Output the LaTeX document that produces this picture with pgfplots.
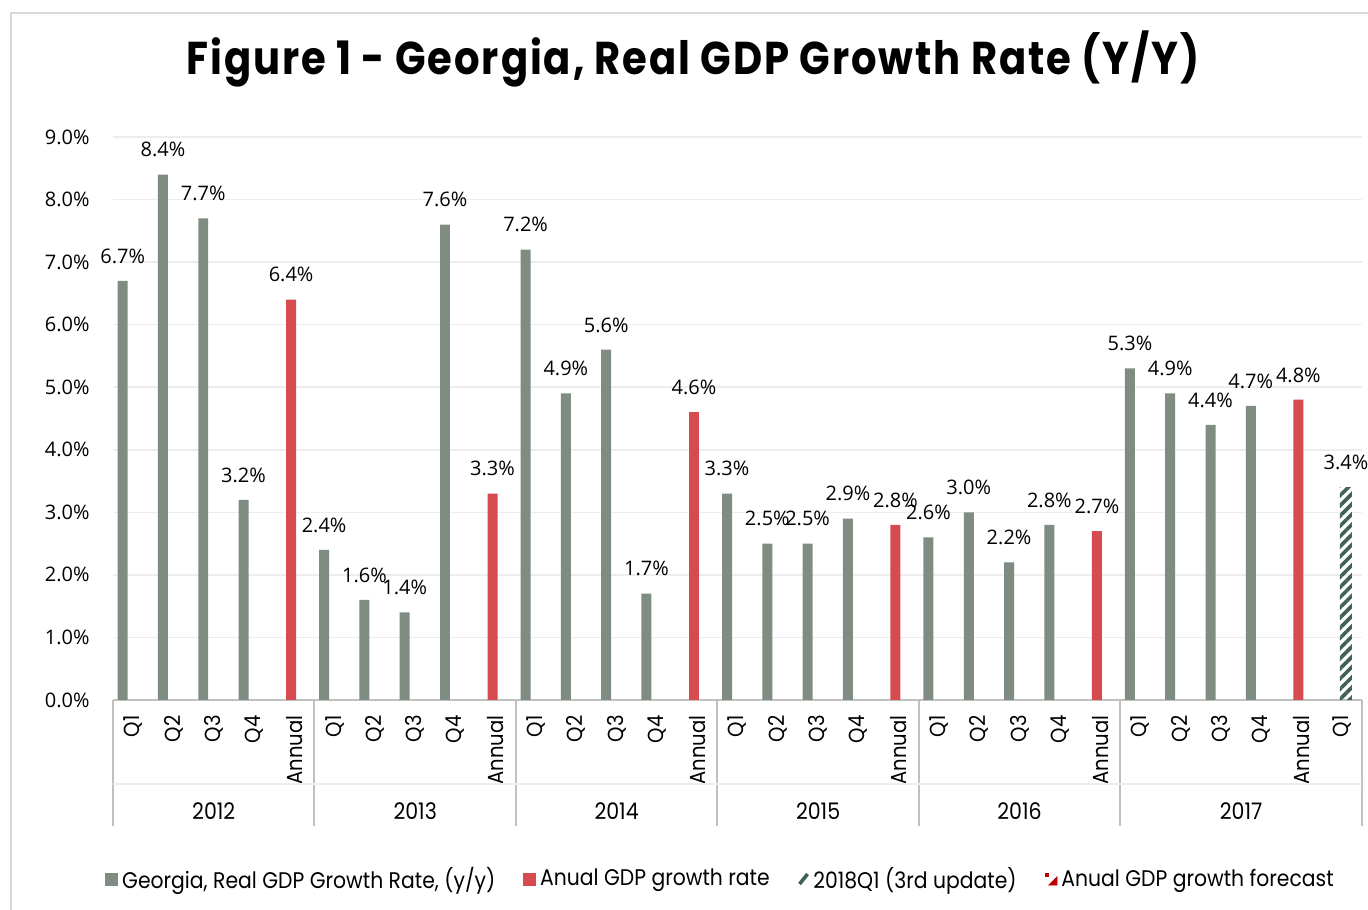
\documentclass[border=0pt]{standalone}
\usepackage{fontspec}
\setmainfont{Poppins}[FakeStretch=0.9]
\newfontfamily\numfont{Open Sans}
\newfontfamily\titlefont{Poppins}[FakeStretch=0.85, LetterSpace=4]
\usepackage{graphicx}
\usepackage{pgfplots}
\pgfplotsset{compat=1.18}
\usetikzlibrary{patterns.meta}
\definecolor{bargray}{HTML}{7F8C82}
\definecolor{barred}{HTML}{D64B4F}
\definecolor{hatchgreen}{HTML}{3E6150}
\definecolor{gridc}{HTML}{EDEDED}
\definecolor{axisc}{HTML}{C0C0C0}
\definecolor{framec}{HTML}{D9D9D9}
\definecolor{legred}{HTML}{C00000}
\begin{document}
\begin{tikzpicture}
\path[use as bounding box] (0,0) rectangle (684pt,454.5pt);
\clip (0,0) rectangle (684pt,454.5pt);
\fill[white] (0,0) rectangle (684pt,454.5pt);
\draw[framec, line width=1pt] (5.5pt,-10pt) rectangle (700pt,448pt);
\node[font=\titlefont\bfseries\fontsize{23}{27}\selectfont, anchor=base, inner sep=0pt] at (346.5pt,417pt)
  {\resizebox{506.5pt}{\height}{Figure 1 - Georgia, Real GDP Growth Rate (Y/Y)}};
\begin{axis}[
  at={(56.5pt,104.5pt)}, anchor=south west,
  scale only axis, width=624.5pt, height=281.5pt,
  xmin=-0.5, xmax=30.5, ymin=0, ymax=9,
  clip=false,
  axis x line*=bottom, axis y line*=left,
  x axis line style={axisc, line width=1pt, -},
  y axis line style={draw=none},
  major tick length=0pt,
  ytick={0,1,...,9},
  ymajorgrids, grid style={gridc, line width=0.75pt},
  yticklabel={\pgfmathprintnumber[fixed,fixed zerofill,precision=1,assume math mode=true]{\tick}\%},
  yticklabel style={font=\numfont\fontsize{10}{12}\selectfont, anchor=east, inner sep=0pt, xshift=-11.5pt},
  xtick={0,...,30},
  xticklabels={Q1,Q2,Q3,Q4,Annual,Q1,Q2,Q3,Q4,Annual,Q1,Q2,Q3,Q4,Annual,Q1,Q2,Q3,Q4,Annual,Q1,Q2,Q3,Q4,Annual,Q1,Q2,Q3,Q4,Annual,Q1},
  xticklabel style={font=\fontsize{10.9}{12}\selectfont, yshift=-7.5pt, rotate=90, anchor=east, inner sep=0pt},
  nodes near coords={\pgfmathprintnumber[fixed,fixed zerofill,precision=1,assume math mode=true]{\pgfplotspointmeta}\%},
  every node near coord/.append style={font=\numfont\fontsize{10}{12}\selectfont, inner sep=0pt, anchor=south, yshift=8.5pt},
  legend columns=4,
  legend cell align=left,
  legend style={at={(axis description cs:0,0)}, anchor=west, xshift=-4pt, yshift=-89.5pt,
    draw=none, fill=none, inner sep=0pt,
    font=\fontsize{11.3}{13}\selectfont,
    /tikz/every even column/.append style={column sep=12pt}},
]
\addplot[ybar, bar width=0.248, bar shift=0pt, fill=bargray, draw=none, forget plot] coordinates {
  (-0.26,6.7) (0.74,8.4) (1.74,7.7) (2.74,3.2)
  (4.74,2.4) (5.74,1.6) (6.74,1.4) (7.74,7.6)
  (9.74,7.2) (10.74,4.9) (11.74,5.6) (12.74,1.7)
  (14.74,3.3) (15.74,2.5) (16.74,2.5) (17.74,2.9)
  (19.74,2.6) (20.74,3.0) (21.74,2.2) (22.74,2.8)
  (24.74,5.3) (25.74,4.9) (26.74,4.4) (27.74,4.7)
};
\addplot[ybar, bar width=0.248, bar shift=0pt, fill=barred, draw=none, forget plot] coordinates {
  (3.92,6.4) (8.92,3.3) (13.92,4.6) (18.92,2.8) (23.92,2.7) (28.92,4.8)
};
\addplot[ybar, bar width=0.3, bar shift=0pt, draw=none,
  pattern={Lines[angle=45,distance=3.6pt,line width=1.8pt]}, pattern color=hatchgreen, forget plot] coordinates {
  (30.1,3.4)
};
\addlegendimage{legend image code/.code={\fill[bargray] (0pt,-3pt) rectangle (6pt,3pt);}}
\addlegendentry{Georgia, Real GDP Growth Rate, (y/y)}
\addlegendimage{legend image code/.code={\fill[barred] (0pt,-3pt) rectangle (6pt,3pt);}}
\addlegendentry{Anual GDP growth rate}
\addlegendimage{legend image code/.code={\draw[hatchgreen, line width=1.8pt] (0.5pt,-2.5pt) -- (4.5pt,2.5pt);}}
\addlegendentry{2018Q1 (3rd update)}
\addlegendimage{legend image code/.code={\fill[legred] (0pt,1.5pt) rectangle (1.8pt,3pt); \fill[legred] (2pt,-3pt) -- (6pt,1pt) -- (6pt,-3pt) -- cycle;}}
\addlegendentry{Anual GDP growth forecast}
\pgfplotsinvokeforeach{-0.5,4.5,9.5,14.5,19.5,24.5,30.5}{
  \draw[axisc, line width=1pt] (axis cs:#1,0) -- ([yshift=-63pt]axis cs:#1,0);
}
\draw[gridc, line width=0.75pt] ([yshift=-42pt]axis cs:-0.5,0) -- ([yshift=-42pt]axis cs:30.5,0);
\node[anchor=base, inner sep=0pt, font=\fontsize{11.4}{13}\selectfont] at ([yshift=-59.5pt]axis cs:2,0) {2012};
\node[anchor=base, inner sep=0pt, font=\fontsize{11.4}{13}\selectfont] at ([yshift=-59.5pt]axis cs:7,0) {2013};
\node[anchor=base, inner sep=0pt, font=\fontsize{11.4}{13}\selectfont] at ([yshift=-59.5pt]axis cs:12,0) {2014};
\node[anchor=base, inner sep=0pt, font=\fontsize{11.4}{13}\selectfont] at ([yshift=-59.5pt]axis cs:17,0) {2015};
\node[anchor=base, inner sep=0pt, font=\fontsize{11.4}{13}\selectfont] at ([yshift=-59.5pt]axis cs:22,0) {2016};
\node[anchor=base, inner sep=0pt, font=\fontsize{11.4}{13}\selectfont] at ([yshift=-59.5pt]axis cs:27.5,0) {2017};
\end{axis}
\end{tikzpicture}
\end{document}
